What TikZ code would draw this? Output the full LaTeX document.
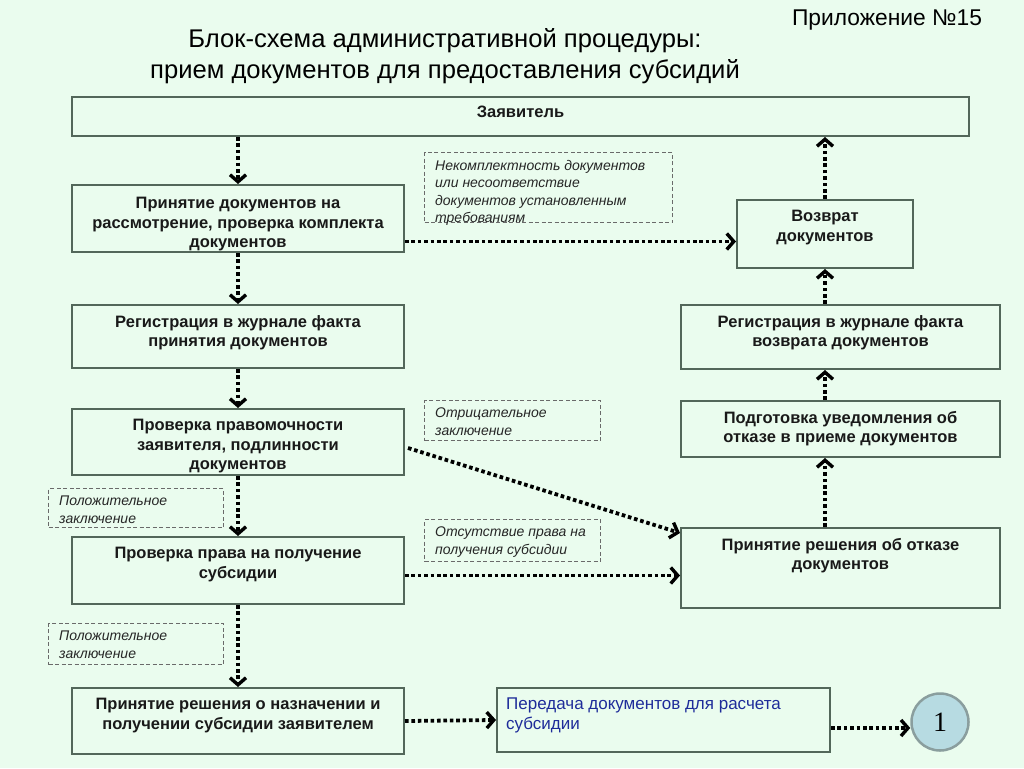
\documentclass[tikz,border=0pt]{standalone}
\usepackage{fontspec}
\setmainfont{Liberation Sans}
\newfontfamily\numserif{Liberation Serif}
\usetikzlibrary{arrows.meta,calc}
\definecolor{bg}{HTML}{EAFCEE}
\definecolor{boxline}{HTML}{53675A}
\definecolor{lblline}{HTML}{6A6A6A}
\definecolor{bluetxt}{HTML}{1E2C9A}
\definecolor{circfill}{HTML}{B7DBE2}
\definecolor{circline}{HTML}{8A9E9E}
\tikzset{
  box/.style={draw=boxline, line width=2pt, anchor=north west, inner sep=0pt},
  btxt/.style={anchor=north, inner sep=0pt, align=center, text=black!90, font=\fontsize{16.5}{19.5}\selectfont\bfseries},
  lbl/.style={draw=lblline, line width=1.4pt, dash pattern=on 4pt off 2.5pt, anchor=north west, inner sep=0pt},
  ltxt/.style={anchor=north west, inner sep=0pt, align=left, text=black!85, font=\fontsize{14}{17.5}\selectfont\itshape},
  flow/.style={line width=3.8pt, dash pattern=on 3.6pt off 2.8pt, -{Straight Barb[length=7pt,width=16pt,line width=3.4pt]}}
}
\begin{document}
\begin{tikzpicture}[x=1pt,y=-1pt]
\useasboundingbox (0,0) rectangle (1024,768);
\fill[bg] (0,0) rectangle (1024,768);
% titles
\node[font=\fontsize{25.6}{31}\selectfont, align=center, inner sep=0pt] (title) at (445,56) {Блок-схема административной процедуры:\\прием документов для предоставления субсидий};
\node[font=\fontsize{22.8}{26}\selectfont, inner sep=0pt] (app) at (887,20) {Приложение №15};
% left column
\node[box, minimum width=897pt, minimum height=39pt] (Z) at (71,96) {};
\node[btxt] (Zt) at ([yshift=-10pt]Z.north) {Заявитель};
\node[box, minimum width=332pt, minimum height=67pt] (A) at (71,184) {};
\node[btxt] (At) at ([yshift=-13pt]A.north) {Принятие документов на\\рассмотрение, проверка комплекта\\документов};
\node[box, minimum width=332pt, minimum height=63pt] (B) at (71,304) {};
\node[btxt] (Bt) at ([yshift=-11pt]B.north) {Регистрация в журнале факта\\принятия документов};
\node[box, minimum width=332pt, minimum height=66pt] (C) at (71,408) {};
\node[btxt] (Ct) at ([yshift=-11pt]C.north) {Проверка правомочности\\заявителя, подлинности\\документов};
\node[box, minimum width=332pt, minimum height=67pt] (D) at (71,536) {};
\node[btxt] (Dt) at ([yshift=-11pt]D.north) {Проверка права на получение\\субсидии};
\node[box, minimum width=332pt, minimum height=66pt] (E) at (71,687) {};
\node[btxt] (Et) at ([yshift=-11pt]E.north) {Принятие решения о назначении и\\получении субсидии заявителем};
\node[box, minimum width=333pt, minimum height=64pt] (F) at (496,687) {};
\node[anchor=north west, inner sep=0pt, align=left, text=bluetxt, font=\fontsize{17}{20}\selectfont] (Ft) at ([xshift=10pt,yshift=-11pt]F.north west) {Передача документов для расчета\\субсидии};
\node[circle, draw=circline, fill=circfill, line width=2.5pt, minimum size=57pt, inner sep=0pt, font=\fontsize{28}{30}\selectfont\numserif] (circ) at (940,722) {1};
% right column
\node[box, minimum width=176pt, minimum height=68pt] (G) at (736,199) {};
\node[btxt] (Gt) at ([yshift=-11pt]G.north) {Возврат\\документов};
\node[box, minimum width=319pt, minimum height=64pt] (H) at (680,304) {};
\node[btxt] (Ht) at ([yshift=-11pt]H.north) {Регистрация в журнале факта\\возврата документов};
\node[box, minimum width=319pt, minimum height=56pt] (I) at (680,400) {};
\node[btxt] (It) at ([yshift=-11pt]I.north) {Подготовка уведомления об\\отказе в приеме документов};
\node[box, minimum width=319pt, minimum height=80pt] (J) at (680,527) {};
\node[btxt] (Jt) at ([yshift=-11pt]J.north) {Принятие решения об отказе\\документов};
% dashed labels
\node[lbl, minimum width=248pt, minimum height=70pt] (L1) at (424,152) {};
\node[ltxt] (L1t) at ([xshift=11pt,yshift=-8pt]L1.north west) {Некомплектность документов\\или несоответствие\\документов установленным\\требованиям};
\node[lbl, minimum width=176pt, minimum height=40pt] (L2) at (424,400) {};
\node[ltxt] (L2t) at ([xshift=11pt,yshift=-8pt]L2.north west) {Отрицательное\\заключение};
\node[lbl, minimum width=176pt, minimum height=42pt] (L3) at (424,519) {};
\node[ltxt] (L3t) at ([xshift=11pt,yshift=-8pt]L3.north west) {Отсутствие права на\\получения субсидии};
\node[lbl, minimum width=175pt, minimum height=39pt] (L4) at (48,488) {};
\node[ltxt] (L4t) at ([xshift=11pt,yshift=-8pt]L4.north west) {Положительное\\заключение};
\node[lbl, minimum width=175pt, minimum height=41pt] (L5) at (48,623) {};
\node[ltxt] (L5t) at ([xshift=11pt,yshift=-8pt]L5.north west) {Положительное\\заключение};
% connectors
\draw[flow] (Z.south -| A.north) -- (A.north);
\draw[flow] (A.south) -- (B.north);
\draw[flow] (B.south) -- (C.north);
\draw[flow] (C.south) -- (D.north);
\draw[flow] (D.south) -- (E.north);
\draw[flow] ([yshift=-23pt]A.east) -- ([yshift=-23pt]A.east -| G.west);
\draw[flow] ([xshift=3pt,yshift=-6pt]C.east) -- ([yshift=-6pt]J.north west);
\draw[flow] ([yshift=-5pt]D.east) -- ([yshift=-5pt]D.east -| J.west);
\draw[flow] (E.east) -- (F.west);
\draw[flow] ([yshift=-8pt]F.east) -- ([yshift=-8pt]F.east -| circ.west);
\draw[flow] (J.north -| G.south) -- (I.south -| G.south);
\draw[flow] (I.north -| G.south) -- (H.south -| G.south);
\draw[flow] (H.north -| G.south) -- (G.south);
\draw[flow] (G.north) -- (Z.south -| G.north);
\end{tikzpicture}
\end{document}
